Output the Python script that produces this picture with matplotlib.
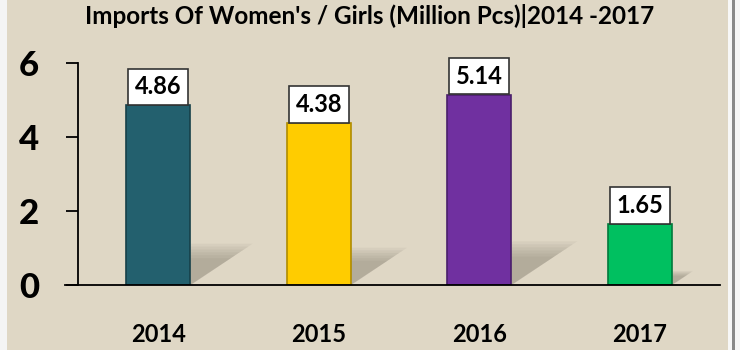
import matplotlib
matplotlib.use("Agg")
import matplotlib.pyplot as plt
from matplotlib.patches import Polygon, Rectangle

years = ["2014", "2015", "2016", "2017"]
imports = [4.86, 4.38, 5.14, 1.65]
bar_colors = ["#23606e", "#ffcc00", "#7030a0", "#00c060"]
edge_colors = ["#164049", "#b08c00", "#4a1f6b", "#007a3c"]
y_ticks = [0, 2, 4, 6]

bg = "#dfd7c5"
plt.rcParams['font.family'] = ['Lato', 'DejaVu Sans']

fig = plt.figure(figsize=(7.4, 3.5), dpi=100, facecolor=bg)
ax = fig.add_axes([78 / 740, 65 / 350, 642 / 740, 222 / 350])
ax.set_facecolor("none")

# white strips at the edges
fig.patches.append(Rectangle((0, 0), 7 / 740, 1, transform=fig.transFigure,
                             fc="#f4f4f4", ec="none", zorder=-5))
fig.patches.append(Rectangle((728 / 740, 0), 12 / 740, 1, transform=fig.transFigure,
                             fc="#f7f7f7", ec="none", zorder=-5))
fig.patches.append(Rectangle((732 / 740, 0), 3 / 740, 1, transform=fig.transFigure,
                             fc="#8a8a8a", ec="none", zorder=-4))

x = list(range(len(years)))
w = 0.4

# bar shadows (layered for a soft edge)
for i, v in enumerate(imports):
    for j in range(6):
        s = 1 - j * 0.07
        dx = 0.08 * v * s
        dy = 0.23 * v * s
        poly = Polygon([(i - w / 2, 0), (i + w / 2, 0),
                        (i + w / 2 + dx, dy), (i - w / 2 + dx, dy)],
                       closed=True, fc="#6a6358", ec="none", alpha=0.07, zorder=1)
        ax.add_patch(poly)

bars = ax.bar(x, imports, width=w, color=bar_colors, edgecolor=edge_colors,
              linewidth=1.2, zorder=3)

for i, v in enumerate(imports):
    ax.annotate(f"{v:.2f}", xy=(i, v), xytext=(0, 5), textcoords="offset points",
                ha="center", va="bottom", fontsize=17, fontweight="bold",
                bbox=dict(boxstyle="square,pad=0.28", fc="white", ec="#333333", lw=1.2),
                zorder=5)

ax.set_xlim(-0.5, 3.5)
ax.set_ylim(0, 6)
ax.set_yticks(y_ticks)
ax.set_yticklabels([str(t) for t in y_ticks], fontsize=25, fontweight="black")
ax.set_xticks(x)
ax.set_xticklabels(years, fontsize=17, fontweight="bold")
ax.tick_params(axis="y", length=9, width=1.3, pad=19, direction="out")
ax.tick_params(axis="x", length=0, pad=27)

for side in ["top", "right"]:
    ax.spines[side].set_visible(False)
ax.spines["left"].set_linewidth(1.3)
ax.spines["bottom"].set_linewidth(1.3)
ax.spines["bottom"].set_bounds(-0.58, 3.5)
ax.spines["bottom"].set_zorder(4)

fig.text(0.5, 0.955, "Imports Of Women's / Girls (Million Pcs)|2014 -2017",
         ha="center", va="center", fontsize=17.5, fontweight="bold")

fig.savefig("out.png", dpi=100, facecolor=bg)
